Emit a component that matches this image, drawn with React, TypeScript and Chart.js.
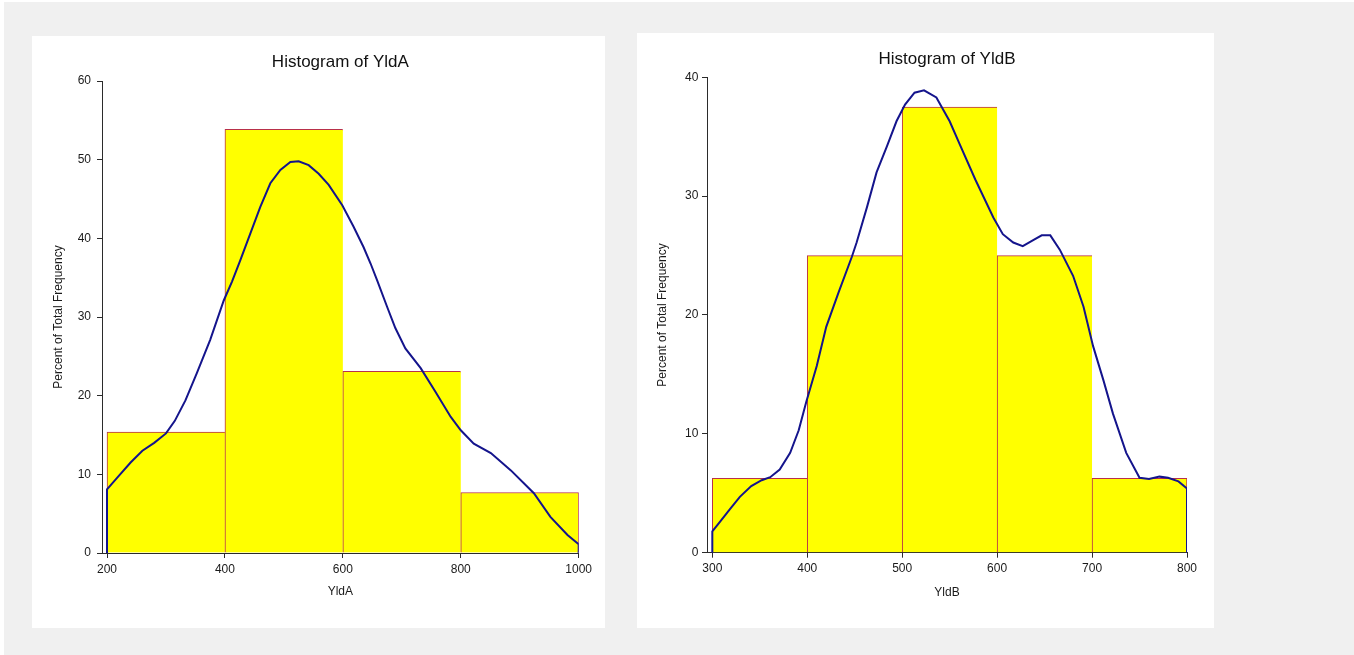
import React, { useEffect, useRef } from "react";
import { Chart, registerables } from "chart.js";

Chart.register(...registerables);

// ---------- Data: YldA ----------
const binEdgesA = [200, 400, 600, 800, 1000];
const percentA = [15.38, 53.85, 23.08, 7.69];
const xTicksA = [200, 400, 600, 800, 1000];
const curveXA = [
  200, 200, 220, 240, 260, 280, 300, 315, 333, 352, 375, 398, 412, 426, 443, 460, 477, 494, 511, 525,
  542, 559, 576, 599, 618, 635, 647, 658, 675, 689, 706, 732, 757, 783, 800, 822, 851, 885, 924, 952,
  981, 1000, 1000,
];
const curveYA = [
  0, 8.1, 9.8, 11.5, 13.0, 14.0, 15.2, 16.8, 19.4, 22.8, 27.1, 32.1, 34.5, 37.2, 40.6, 44.0, 47.0, 48.7, 49.7, 49.8,
  49.3, 48.2, 46.8, 44.2, 41.5, 38.9, 36.8, 34.7, 31.3, 28.6, 26.0, 23.5, 20.5, 17.3, 15.6, 13.9, 12.7, 10.5, 7.6, 4.6,
  2.3, 1.1, 0,
];

// ---------- Data: YldB ----------
const binEdgesB = [300, 400, 500, 600, 700, 800];
const percentB = [6.25, 25, 37.5, 25, 6.25];
const xTicksB = [300, 400, 500, 600, 700, 800];
const curveXB = [
  300, 300, 308, 319, 329, 341, 352, 361, 371, 382, 391, 399, 410, 420, 433, 447, 452, 463, 473, 484,
  494, 503, 513, 523, 536, 550, 561, 577, 596, 606, 617, 627, 638, 647, 656, 666, 680, 691, 701, 712,
  722, 736, 750, 760, 771, 780, 791, 800, 800,
];
const curveYB = [
  0, 1.8, 2.6, 3.7, 4.7, 5.6, 6.1, 6.35, 7.0, 8.4, 10.3, 12.7, 15.7, 19.0, 21.9, 24.9, 26.1, 29.1, 32.0, 34.2,
  36.3, 37.7, 38.7, 38.9, 38.3, 36.3, 34.3, 31.4, 28.2, 26.8, 26.1, 25.8, 26.3, 26.7, 26.7, 25.5, 23.3, 20.7, 17.4, 14.5,
  11.7, 8.4, 6.3, 6.2, 6.4, 6.3, 6.0, 5.4, 0,
];

const FONT = 'Arial, "Liberation Sans", sans-serif';
const AXIS = "#2b2b2b";
const TEXT = "#1a1a1a";
const BAR_FILL = "#ffff00";
const BAR_EDGE = "#b8304a";
const CURVE = "#14148c";

type Spec = {
  title: string;
  xTitle: string;
  edges: number[];
  percent: number[];
  xTicks: number[];
  curveX: number[];
  curveY: number[];
  xMin: number;
  xMax: number;
  yMax: number;
  width: number;
  height: number;
  padRight: number;
  yAxisWidth: number;
  xAxisHeight: number;
  titlePadTop: number;
  titlePadBottom: number;
  yTitlePad: number;
  xTitlePad: number;
  yTickPad: number;
};

function Histogram({ spec }: { spec: Spec }) {
  const ref = useRef<HTMLCanvasElement>(null);
  useEffect(() => {
    const bars = spec.percent.map((p, i) => ({ x: (spec.edges[i] + spec.edges[i + 1]) / 2, y: p }));
    const curve = spec.curveX.map((x, i) => ({ x, y: spec.curveY[i] }));
    const last = bars.length - 1;
    const chart = new Chart(ref.current as HTMLCanvasElement, {
      type: "bar",
      data: {
        datasets: [
          {
            type: "line",
            data: curve,
            borderColor: CURVE,
            borderWidth: 2,
            pointRadius: 0,
            tension: 0,
            fill: false,
            order: 0,
          } as any,
          {
            type: "bar",
            data: bars,
            backgroundColor: BAR_FILL,
            borderColor: BAR_EDGE,
            borderSkipped: false,
            borderWidth: (ctx: any) => ({ top: 1, left: 1, bottom: 0, right: ctx.dataIndex === last ? 1 : 0 }),
            barPercentage: 1,
            categoryPercentage: 1,
            order: 1,
          } as any,
        ],
      },
      options: {
        responsive: false,
        animation: false,
        events: [],
        layout: { padding: { left: 0, top: 0, bottom: 0, right: spec.padRight } },
        plugins: {
          legend: { display: false },
          tooltip: { enabled: false },
          title: {
            display: true,
            text: spec.title,
            fullSize: false,
            color: "#111111",
            font: { family: FONT, size: 17, weight: "normal" },
            padding: { top: spec.titlePadTop, bottom: spec.titlePadBottom },
          },
        },
        scales: {
          x: {
            type: "linear",
            min: spec.xMin,
            max: spec.xMax,
            offset: false,
            afterBuildTicks: (s: any) => {
              s.ticks = spec.xTicks.map((v) => ({ value: v }));
            },
            afterFit: (s: any) => {
              s.height = spec.xAxisHeight;
            },
            grid: { display: true, drawOnChartArea: false, drawTicks: true, tickLength: 5, color: AXIS, offset: false },
            border: { display: true, color: AXIS, width: 1 },
            ticks: {
              color: TEXT,
              font: { family: FONT, size: 12 },
              padding: 4,
              maxRotation: 0,
              autoSkip: false,
              callback: (v: any) => String(v),
            },
            title: {
              display: true,
              text: spec.xTitle,
              color: TEXT,
              font: { family: FONT, size: 12 },
              padding: { top: 0, bottom: spec.xTitlePad },
            },
          },
          y: {
            type: "linear",
            min: 0,
            max: spec.yMax,
            afterFit: (s: any) => {
              s.width = spec.yAxisWidth;
            },
            grid: { display: true, drawOnChartArea: false, drawTicks: true, tickLength: 5, color: AXIS },
            border: { display: true, color: AXIS, width: 1 },
            ticks: {
              stepSize: 10,
              color: TEXT,
              font: { family: FONT, size: 12 },
              padding: spec.yTickPad,
              callback: (v: any) => String(v),
            },
            title: {
              display: true,
              text: "Percent of Total Frequency",
              color: TEXT,
              font: { family: FONT, size: 12 },
              padding: { top: spec.yTitlePad, bottom: 0 },
            },
          },
        },
      } as any,
    });
    return () => chart.destroy();
  }, []);
  return (
    <canvas
      ref={ref}
      width={spec.width}
      height={spec.height}
      style={{ display: "block", width: spec.width, height: spec.height }}
    />
  );
}

const specA: Spec = {
  title: "Histogram of YldA",
  xTitle: "YldA",
  edges: binEdgesA,
  percent: percentA,
  xTicks: xTicksA,
  curveX: curveXA,
  curveY: curveYA,
  xMin: 191.5,
  xMax: 1000,
  yMax: 60,
  width: 573,
  height: 592,
  padRight: 26.3,
  yAxisWidth: 70,
  xAxisHeight: 75,
  titlePadTop: 15.8,
  titlePadBottom: 8.8,
  yTitlePad: 19.8,
  xTitlePad: 28.8,
  yTickPad: 6,
};

const specB: Spec = {
  title: "Histogram of YldB",
  xTitle: "YldB",
  edges: binEdgesB,
  percent: percentB,
  xTicks: xTicksB,
  curveX: curveXB,
  curveY: curveYB,
  xMin: 294.4,
  xMax: 800,
  yMax: 40,
  width: 577,
  height: 595,
  padRight: 27,
  yAxisWidth: 70,
  xAxisHeight: 75.3,
  titlePadTop: 15.8,
  titlePadBottom: 8.1,
  yTitlePad: 18.8,
  xTitlePad: 27.8,
  yTickPad: 3.7,
};

export default function App() {
  return (
    <div style={{ position: "fixed", left: 0, top: 0, width: 1354, height: 655, background: "#ffffff" }}>
      <div style={{ position: "absolute", left: 4, top: 2, right: 0, bottom: 0, background: "#f0f0f0" }} />
      <div style={{ position: "absolute", left: 32, top: 36, width: 573, height: 592, background: "#ffffff" }}>
        <Histogram spec={specA} />
      </div>
      <div style={{ position: "absolute", left: 637, top: 33, width: 577, height: 595, background: "#ffffff" }}>
        <Histogram spec={specB} />
      </div>
    </div>
  );
}
